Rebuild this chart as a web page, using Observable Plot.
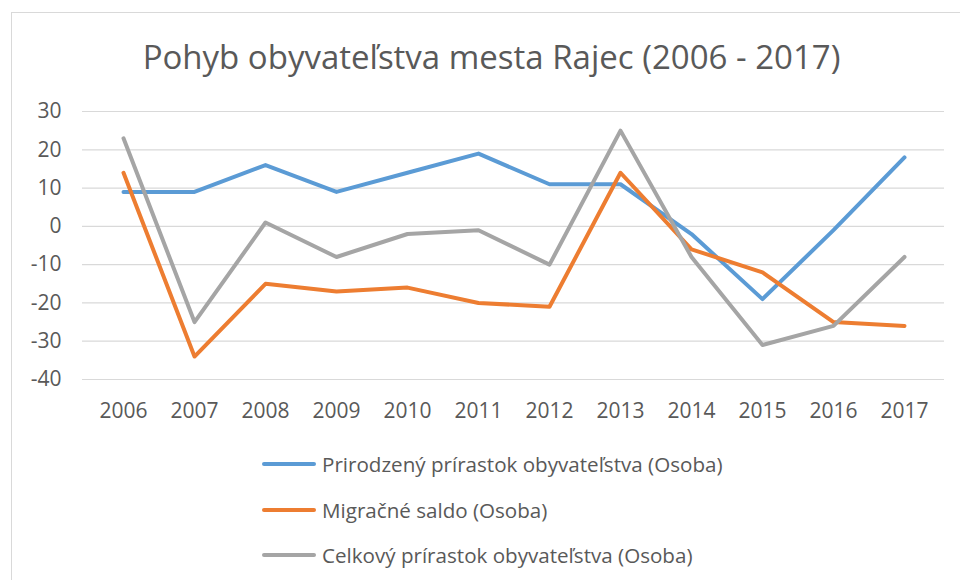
<!DOCTYPE html>
<html>
<head>
<meta charset="utf-8">
<script src="https://cdn.jsdelivr.net/npm/d3@7"></script>
<script src="https://cdn.jsdelivr.net/npm/@observablehq/plot@0.6"></script>
<style>
  html, body { margin: 0; padding: 0; background: #fff; }
  #wrap { position: relative; width: 960px; height: 580px; overflow: hidden; font-family: "Open Sans", sans-serif; color: #595959; }
  #frame { position: absolute; left: 11px; top: 12px; width: 1000px; height: 700px; border: 1.5px solid #D9D9D9; box-sizing: border-box; }
  #title { position: absolute; left: 0; width: 983px; top: 37px; text-align: center; font-size: 33px; line-height: 40px; }
  #chart { position: absolute; left: 0; top: 90px; }
  .leg { position: absolute; left: 262px; height: 24px; display: flex; align-items: center; font-size: 20.6px; }
  .leg span.sw { display: inline-block; width: 54px; height: 4px; border-radius: 2px; margin-right: 6px; }
</style>
</head>
<body>
<div id="wrap">
  <div id="frame"></div>
  <div id="title">Pohyb obyvateľstva mesta Rajec (2006 - 2017)</div>
  <div id="chart"></div>
  <div id="legend"></div>
</div>
<script>
const years = ["2006","2007","2008","2009","2010","2011","2012","2013","2014","2015","2016","2017"];
const prirodzeny = [9, 9, 16, 9, 14, 19, 11, 11, -2, -19, -1, 18];
const migracne = [14, -34, -15, -17, -16, -20, -21, 14, -6, -12, -25, -26];
const celkovy = [23, -25, 1, -8, -2, -1, -10, 25, -8, -31, -26, -8];
const seriesNames = ["Prirodzený prírastok obyvateľstva (Osoba)", "Migračné saldo (Osoba)", "Celkový prírastok obyvateľstva (Osoba)"];
const seriesColors = ["#5B9BD5", "#ED7D31", "#A5A5A5"];
const yTicks = [-40, -30, -20, -10, 0, 10, 20, 30];

const seriesValues = [prirodzeny, migracne, celkovy];
const data = [];
seriesNames.forEach((name, si) => {
  years.forEach((yr, i) => data.push({ year: yr, value: seriesValues[si][i], series: name }));
});

const chart = Plot.plot({
  width: 960,
  height: 340,
  marginLeft: 82,
  marginRight: 16,
  marginTop: 21,
  marginBottom: 51,
  style: { fontFamily: "Open Sans, sans-serif", fontSize: "21px", color: "#595959", background: "transparent", overflow: "visible" },
  x: { type: "point", domain: years, padding: 0.5, label: null },
  y: { domain: [-40, 30], label: null },
  color: { domain: seriesNames, range: seriesColors },
  marks: [
    Plot.gridY(yTicks, { stroke: "#D9D9D9", strokeOpacity: 1, strokeWidth: 1.2 }),
    Plot.axisY(yTicks, { tickSize: 0, tickPadding: 21, tickFormat: d => String(d), label: null, fill: "#595959" }),
    Plot.axisX({ tickSize: 0, tickPadding: 24, label: null, fill: "#595959" }),
    Plot.line(data, { x: "year", y: "value", z: "series", stroke: "series", strokeWidth: 4, strokeLinejoin: "round", strokeLinecap: "round" })
  ]
});
document.getElementById("chart").appendChild(chart);

const legendTops = [452, 498, 543];
const leg = document.getElementById("legend");
seriesNames.forEach((name, i) => {
  const d = document.createElement("div");
  d.className = "leg";
  d.style.top = legendTops[i] + "px";
  d.innerHTML = `<span class="sw" style="background:${seriesColors[i]}"></span><span>${name}</span>`;
  leg.appendChild(d);
});
</script>
</body>
</html>
